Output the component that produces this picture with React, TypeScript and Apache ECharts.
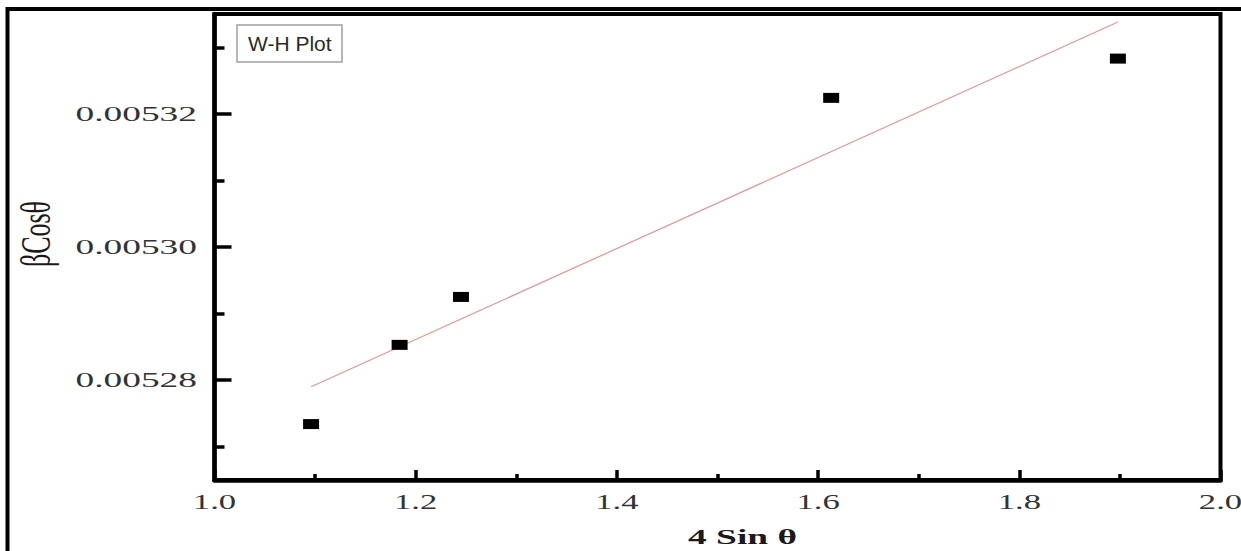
import React, { useEffect, useRef } from "react";
import * as echarts from "echarts";

// ---- data ----
const sinTheta4 = [1.096, 1.184, 1.245, 1.613, 1.898];
const betaCosTheta = [0.0052734, 0.0052853, 0.0052925, 0.0053224, 0.0053283];
const fitX = [1.096, 1.898];
const fitY = [0.005279, 0.0053338];

const xTickValues = [1.0, 1.2, 1.4, 1.6, 1.8, 2.0];
const xTickLabels = ["1.0", "1.2", "1.4", "1.6", "1.8", "2.0"];
const yMajorTicks = [0.00528, 0.0053, 0.00532];
const yTickLabels = ["0.00528", "0.00530", "0.00532"];
const yMinorTicks = [0.00527, 0.00529, 0.00531, 0.00533];

const X_MIN = 1.0;
const X_MAX = 2.0;
const Y_MIN = 0.005265;
const Y_MAX = 0.005335;

const legendText = "W-H Plot";
const xName = "4 Sin θ";
const yName = "βCosθ";

export default function App() {
  const ref = useRef<HTMLDivElement>(null);

  useEffect(() => {
    if (!ref.current) return;
    const chart = echarts.init(ref.current, undefined, { renderer: "svg" });
    const tickLine = { color: "#000", width: 3.5 };
    chart.setOption({
      animation: false,
      backgroundColor: "#fff",
      title: {
        text: legendText,
        left: 237,
        top: 25,
        padding: [8, 11],
        borderColor: "#a0a0a0",
        borderWidth: 1.5,
        textStyle: {
          fontFamily: "Liberation Sans",
          fontSize: 21,
          fontWeight: "normal",
          color: "#2a2a2a",
          lineHeight: 21,
        },
      },
      grid: {
        left: 214.5,
        right: 20.5,
        top: 14,
        bottom: 71,
        show: true,
        borderColor: "#000",
        borderWidth: 4,
        backgroundColor: "transparent",
      },
      xAxis: {
        type: "value",
        min: X_MIN,
        max: X_MAX,
        interval: 0.2,
        axisLine: { show: true, onZero: false, lineStyle: { color: "#000", width: 4.5 } },
        axisTick: { show: true, inside: true, length: 10, lineStyle: tickLine },
        minorTick: { show: true, splitNumber: 2, length: 6, lineStyle: tickLine },
        axisLabel: { show: false },
        splitLine: { show: false },
        minorSplitLine: { show: false },
      },
      yAxis: [
        {
          type: "value",
          min: Y_MIN,
          max: Y_MAX,
          axisLine: { show: true, onZero: false, lineStyle: { color: "#000", width: 4.5 } },
          axisTick: { show: true, inside: true, length: 17, customValues: yMajorTicks, lineStyle: tickLine },
          axisLabel: { show: false, customValues: yMajorTicks },
          splitLine: { show: false },
        },
        {
          type: "value",
          min: Y_MIN,
          max: Y_MAX,
          position: "left",
          axisLine: { show: false },
          axisTick: { show: true, inside: true, length: 10, customValues: yMinorTicks, lineStyle: tickLine },
          axisLabel: { show: false, customValues: yMinorTicks },
          splitLine: { show: false },
        },
      ],
      series: [
        {
          type: "line",
          data: fitX.map((x, i) => [x, fitY[i]]),
          symbol: "none",
          showSymbol: false,
          lineStyle: { color: "#e49595", width: 1.2 },
          z: 2,
        },
        {
          type: "scatter",
          data: sinTheta4.map((x, i) => [x, betaCosTheta[i]]),
          symbol: "rect",
          symbolSize: [16, 10],
          itemStyle: { color: "#000", opacity: 1 },
          z: 3,
        },
      ],
    });

    const axisX0 = chart.convertToPixel({ xAxisIndex: 0 }, X_MIN) as number;
    const axisX1 = chart.convertToPixel({ xAxisIndex: 0 }, X_MAX) as number;
    const axisY0 = chart.convertToPixel({ yAxisIndex: 0 }, Y_MIN) as number;
    const axisY1 = chart.convertToPixel({ yAxisIndex: 0 }, Y_MAX) as number;

    const serif = "Liberation Serif";
    const elements: any[] = [
      {
        type: "rect",
        shape: { x: 7.5, y: 9, width: 1400, height: 700 },
        style: { fill: "none", stroke: "#000", lineWidth: 4 },
        silent: true,
      },
    ];
    yMajorTicks.forEach((v, i) => {
      const py = chart.convertToPixel({ yAxisIndex: 0 }, v) as number;
      elements.push({
        type: "text",
        x: axisX0 - 17.5,
        y: py,
        scaleX: 1.7,
        style: {
          text: yTickLabels[i],
          fontFamily: serif,
          fontSize: 22,
          fill: "#333",
          align: "right",
          verticalAlign: "middle",
          textAlign: "right",
          textVerticalAlign: "middle",
        },
      });
    });
    xTickValues.forEach((v, i) => {
      const px = chart.convertToPixel({ xAxisIndex: 0 }, v) as number;
      elements.push({
        type: "text",
        x: px,
        y: axisY0 + 22,
        scaleX: 1.65,
        style: {
          text: xTickLabels[i],
          fontFamily: serif,
          fontSize: 21,
          fill: "#333",
          align: "center",
          verticalAlign: "middle",
          textAlign: "center",
          textVerticalAlign: "middle",
        },
      });
    });
    elements.push({
      type: "text",
      x: (axisX0 + axisX1) / 2 + 25,
      y: axisY0 + 57,
      scaleX: 1.7,
      style: {
        text: xName,
        fontFamily: serif,
        fontSize: 22,
        fontWeight: "bold",
        fill: "#1a1a1a",
        align: "center",
        verticalAlign: "middle",
        textAlign: "center",
        textVerticalAlign: "middle",
      },
    });
    elements.push({
      type: "text",
      x: 36,
      y: (axisY0 + axisY1) / 2 - 13,
      rotation: Math.PI / 2,
      scaleY: 1.6,
      style: {
        text: yName,
        fontFamily: serif,
        fontSize: 26,
        fill: "#1a1a1a",
        align: "center",
        verticalAlign: "middle",
        textAlign: "center",
        textVerticalAlign: "middle",
      },
    });
    chart.setOption({ graphic: { elements } });

    return () => chart.dispose();
  }, []);

  return (
    <div
      ref={ref}
      style={{ position: "fixed", left: 0, top: 0, width: 1241, height: 551, background: "#fff" }}
    />
  );
}
